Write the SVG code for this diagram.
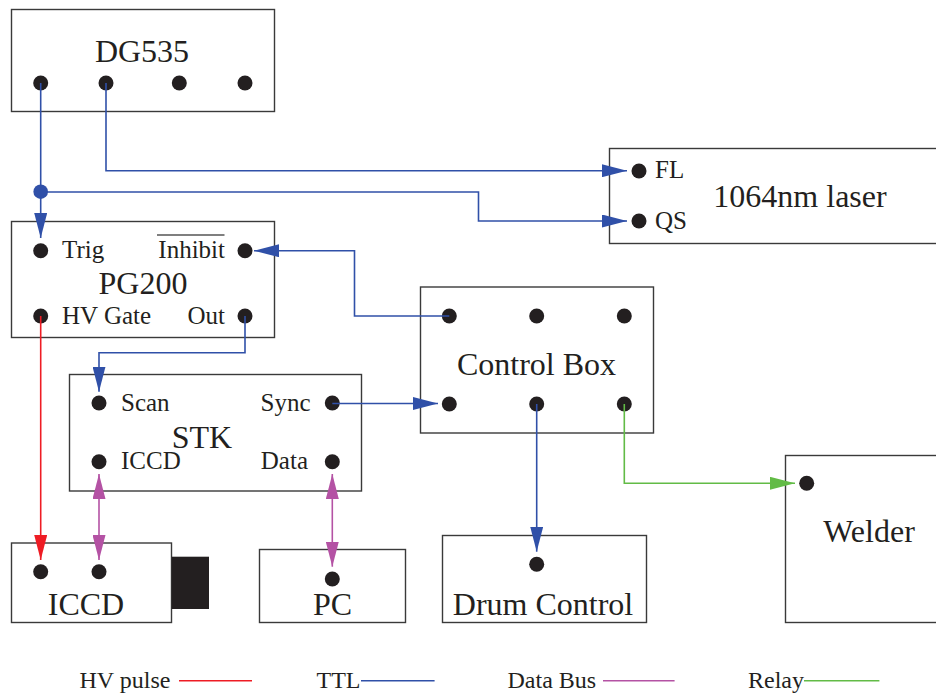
<svg xmlns="http://www.w3.org/2000/svg" width="936" height="695" viewBox="0 0 936 695">
<style>
.box{fill:#fff;stroke:#3a3a3a;stroke-width:1.4}
.dot{fill:#231f20}
.title{font-family:"Liberation Serif","Times New Roman",serif;font-size:32px;fill:#231f20;text-anchor:middle}
.lbl{font-family:"Liberation Serif","Times New Roman",serif;font-size:25px;fill:#231f20}
.leg{font-family:"Liberation Serif","Times New Roman",serif;font-size:24px;fill:#231f20}
.end{text-anchor:end}
.w{fill:none;stroke-width:1.6}
.ttl{stroke:#3050a8}
.hv{stroke:#ee1c24}
.bus{stroke:#b452a4}
.rel{stroke:#62bb46}
</style>
<defs>
<marker id="aB" viewBox="0 0 25 13" refX="25" refY="6.5" markerWidth="25" markerHeight="13" markerUnits="userSpaceOnUse" orient="auto"><path d="M0,0 L25,6.5 L0,13 z" fill="#3050a8"/></marker>
<marker id="aR" viewBox="0 0 25 13" refX="25" refY="6.5" markerWidth="25" markerHeight="13" markerUnits="userSpaceOnUse" orient="auto"><path d="M0,0 L25,6.5 L0,13 z" fill="#ee1c24"/></marker>
<marker id="aM" viewBox="0 0 25 13" refX="25" refY="6.5" markerWidth="25" markerHeight="13" markerUnits="userSpaceOnUse" orient="auto-start-reverse"><path d="M0,0 L25,6.5 L0,13 z" fill="#b452a4"/></marker>
<marker id="aG" viewBox="0 0 25 13" refX="25" refY="6.5" markerWidth="25" markerHeight="13" markerUnits="userSpaceOnUse" orient="auto"><path d="M0,0 L25,6.5 L0,13 z" fill="#62bb46"/></marker>
</defs>
<rect width="936" height="695" fill="#fff"/>

<g id="dg535">
<rect class="box" x="11.5" y="9.5" width="263" height="102"/>
<text class="title" x="142" y="62">DG535</text>
<circle class="dot" cx="40.7" cy="83" r="7.5"/>
<circle class="dot" cx="106" cy="83" r="7.5"/>
<circle class="dot" cx="179.3" cy="83" r="7.5"/>
<circle class="dot" cx="245" cy="83" r="7.5"/>
</g>

<g id="laser">
<rect class="box" x="609.5" y="148.5" width="340" height="95"/>
<text class="title" x="800" y="207">1064nm laser</text>
<circle class="dot" cx="639" cy="171" r="7.5"/>
<circle class="dot" cx="639" cy="221" r="7.5"/>
<text class="lbl" x="655" y="178">FL</text>
<text class="lbl" x="655" y="228.5">QS</text>
</g>

<g id="pg200">
<rect class="box" x="11.5" y="221.5" width="263" height="116"/>
<circle class="dot" cx="40.7" cy="250.7" r="7.5"/>
<circle class="dot" cx="245" cy="250.7" r="7.5"/>
<circle class="dot" cx="40.7" cy="316" r="7.5"/>
<circle class="dot" cx="245" cy="316" r="7.5"/>
<text class="lbl" x="62" y="257.5">Trig</text>
<text class="lbl end" x="225" y="257.5">Inhibit</text>
<line x1="157" y1="235" x2="224.5" y2="235" stroke="#555" stroke-width="1.3"/>
<text class="title" x="143" y="293.5">PG200</text>
<text class="lbl" x="62" y="323.5">HV Gate</text>
<text class="lbl end" x="225" y="323.5">Out</text>
</g>

<g id="stk">
<rect class="box" x="69.5" y="374.5" width="292" height="116.5"/>
<circle class="dot" cx="99" cy="403" r="7.5"/>
<circle class="dot" cx="332.3" cy="403" r="7.5"/>
<circle class="dot" cx="99" cy="461.7" r="7.5"/>
<circle class="dot" cx="332.3" cy="461.7" r="7.5"/>
<text class="lbl" x="121" y="410.7">Scan</text>
<text class="lbl end" x="310.5" y="410.7">Sync</text>
<text class="title" x="202" y="447.5">STK</text>
<text class="lbl" x="121" y="469.3">ICCD</text>
<text class="lbl end" x="308" y="469.3">Data</text>
</g>

<g id="controlbox">
<rect class="box" x="420.5" y="287" width="233" height="146"/>
<circle class="dot" cx="449.3" cy="316" r="7.5"/>
<circle class="dot" cx="536.7" cy="316" r="7.5"/>
<circle class="dot" cx="624.3" cy="316" r="7.5"/>
<circle class="dot" cx="449.3" cy="404" r="7.5"/>
<circle class="dot" cx="536.7" cy="404" r="7.5"/>
<circle class="dot" cx="624.3" cy="404" r="7.5"/>
<text class="title" x="536.5" y="374.5">Control Box</text>
</g>

<g id="welder">
<rect class="box" x="785.5" y="455.5" width="170" height="167"/>
<circle class="dot" cx="806.7" cy="483.3" r="7.5"/>
<text class="title" x="869" y="542">Welder</text>
</g>

<g id="iccd">
<rect class="box" x="11.5" y="543" width="160" height="79.5"/>
<rect x="171.7" y="556.7" width="37.3" height="52.3" fill="#231f20"/>
<circle class="dot" cx="40.7" cy="571.7" r="7.5"/>
<circle class="dot" cx="99" cy="571.7" r="7.5"/>
<text class="title" x="86" y="615">ICCD</text>
</g>

<g id="pc">
<rect class="box" x="259.5" y="549.5" width="146" height="73"/>
<circle class="dot" cx="332.3" cy="579" r="7.5"/>
<text class="title" x="332.5" y="615">PC</text>
</g>

<g id="drumcontrol">
<rect class="box" x="442.5" y="535.5" width="204" height="87"/>
<circle class="dot" cx="536.7" cy="564.3" r="7.5"/>
<text class="title" x="543" y="615">Drum Control</text>
</g>

<g id="connectors">
<circle cx="40.7" cy="191.7" r="7.3" fill="#3050a8"/>
<polyline class="w ttl" points="40.7,83 40.7,238" marker-end="url(#aB)"/>
<polyline class="w ttl" points="40.7,192 478.5,192 478.5,221 627,221" marker-end="url(#aB)"/>
<polyline class="w ttl" points="106,83 106,170.7 627,170.7" marker-end="url(#aB)"/>
<polyline class="w ttl" points="449.3,316 354.5,316 354.5,250.7 254,250.7" marker-end="url(#aB)"/>
<polyline class="w ttl" points="245,316 245,352.7 99,352.7 99,391.7" marker-end="url(#aB)"/>
<polyline class="w ttl" points="332.3,403.5 438,403.5" marker-end="url(#aB)"/>
<polyline class="w ttl" points="536.7,404 536.7,551.7" marker-end="url(#aB)"/>
<polyline class="w rel" points="624.3,404 624.3,483.3 795,483.3" marker-end="url(#aG)"/>
<polyline class="w hv" points="40.7,316 40.7,560" marker-end="url(#aR)"/>
<polyline class="w bus" points="99,474 99,560" marker-start="url(#aM)" marker-end="url(#aM)"/>
<polyline class="w bus" points="332.3,474 332.3,566.7" marker-start="url(#aM)" marker-end="url(#aM)"/>
</g>

<g id="legend">
<text class="leg" x="79.5" y="687.5">HV pulse</text>
<line class="w hv" x1="179" y1="680.7" x2="252" y2="680.7"/>
<text class="leg" x="316.5" y="687.5">TTL</text>
<line class="w ttl" x1="361" y1="680.7" x2="434.6" y2="680.7"/>
<text class="leg" x="507.5" y="687.5">Data Bus</text>
<line class="w bus" x1="603" y1="680.7" x2="674.6" y2="680.7"/>
<text class="leg" x="748" y="687.5">Relay</text>
<line class="w rel" x1="804" y1="680.7" x2="879.4" y2="680.7"/>
</g>
</svg>
